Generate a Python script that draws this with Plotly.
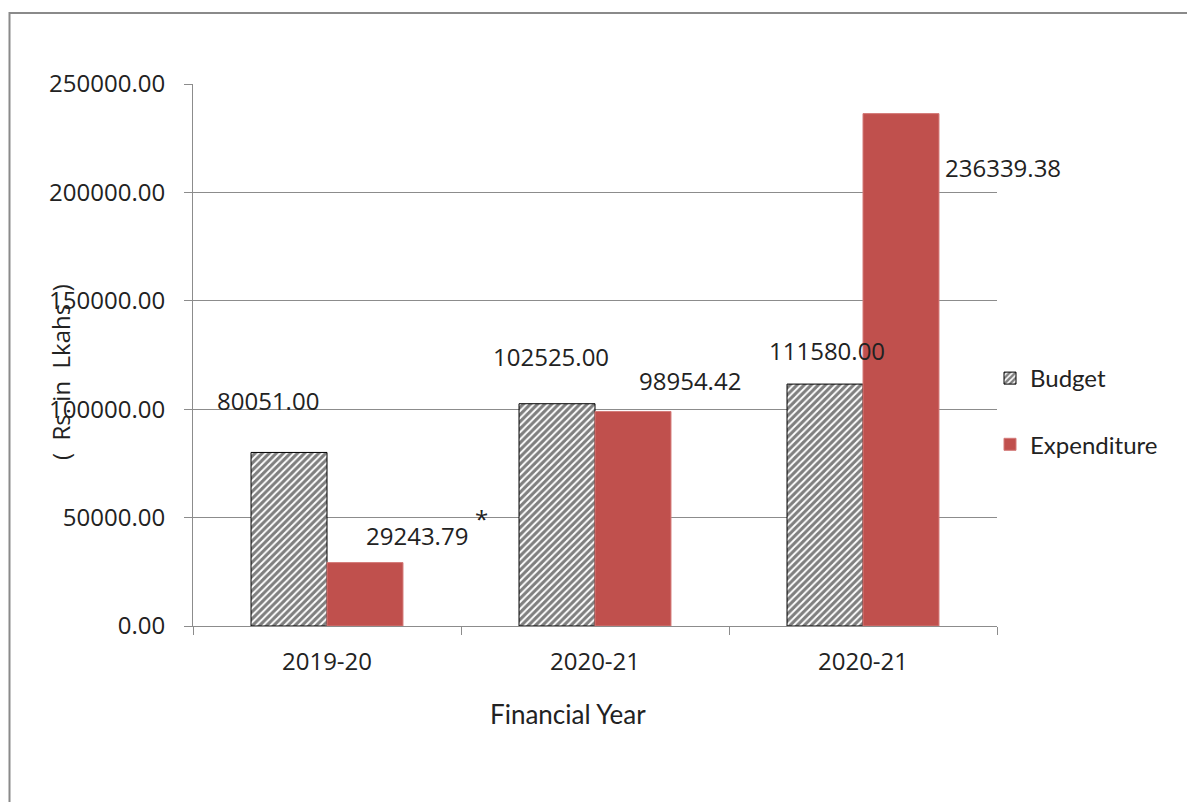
import plotly.graph_objects as go

# Financial-year categories (the last two share the same printed label)
years = ["2019-20", "2020-21", "2020-21"]
budget = [80051.00, 102525.00, 111580.00]
expenditure = [29243.79, 98954.42, 236339.38]

# Pixel offsets of each value label from (category centre, top of its bar)
budget_label_shift = [(-59, 52), (-44, 47), (-36, 34)]
exp_label_shift = [(90, 27), (95, 31), (140, -54)]

FONT = "Open Sans"
TEXT = "#222222"
GRID = "#8c8c8c"
RED = "#C0504D"

W, H = 1187, 802
L, R, T, B = 193, 190, 84, 176
PW, PH = W - L - R, H - T - B

def px_x(p):
    return (p - L) / PW

def px_y(p):
    return (H - B - p) / PH

xs = list(range(len(years)))

fig = go.Figure()

fig.add_trace(go.Bar(
    x=xs, y=budget, name="Budget",
    marker=dict(
        color="white",
        line=dict(color="black", width=1),
        pattern=dict(shape="/", fgcolor="black", bgcolor="white", size=5, solidity=0.62),
    ),
    legendgroup="b",
))
fig.add_trace(go.Bar(
    x=xs, y=expenditure, name="Expenditure",
    marker=dict(color=RED, line=dict(color="#d47a78", width=1)),
    legendgroup="e",
))

annotations = []
for values, shifts in ((budget, budget_label_shift), (expenditure, exp_label_shift)):
    for i, (v, (dx, dy)) in enumerate(zip(values, shifts)):
        annotations.append(dict(
            text=f"{v:.2f}", xref="x", yref="y", x=xs[i], y=v,
            xshift=dx, yshift=dy, showarrow=False,
            xanchor="center", yanchor="middle",
            font=dict(family=FONT, size=24, color=TEXT),
        ))

annotations += [
    dict(text="Financial Year", xref="paper", yref="paper",
         x=px_x(568), y=px_y(714), showarrow=False,
         xanchor="center", yanchor="middle",
         font=dict(family="Lato", size=26, color=TEXT)),
    dict(text="(  Rs. in  Lkahs  )", xref="paper", yref="paper",
         x=px_x(60), y=px_y(372), showarrow=False, textangle=-90,
         xanchor="center", yanchor="middle",
         font=dict(family=FONT, size=24, color=TEXT)),
    dict(text="*", xref="paper", yref="paper",
         x=px_x(481), y=px_y(518), showarrow=False,
         xanchor="center", yanchor="middle",
         font=dict(family=FONT, size=24, color=TEXT)),
]

xrange = [-0.5, len(years) - 0.5]

fig.update_layout(
    width=W, height=H,
    margin=dict(l=L, r=R, t=T, b=B, pad=0),
    paper_bgcolor="white", plot_bgcolor="white",
    barmode="group", bargap=0.433, bargroupgap=0,
    font=dict(family=FONT, size=24, color=TEXT),
    showlegend=True,
    legend=dict(
        x=px_x(990), y=px_y(356), xanchor="left", yanchor="top",
        font=dict(family="Lato", size=24, color=TEXT),
        tracegroupgap=32, traceorder="grouped",
        bgcolor="rgba(0,0,0,0)", borderwidth=0,
    ),
    xaxis=dict(
        range=xrange, tickmode="array", tickvals=xs, ticktext=years,
        ticks="", showgrid=False, zeroline=False,
        showline=True, linecolor=GRID, linewidth=1,
        tickfont=dict(family=FONT, size=24, color=TEXT),
        ticklabelstandoff=14,
        minor=dict(tickmode="linear", tick0=-0.5, dtick=1, ticks="outside",
                   ticklen=8, tickcolor=GRID, tickwidth=1, showgrid=False),
        fixedrange=True,
    ),
    yaxis=dict(
        range=[0, 250000], tickmode="linear", tick0=0, dtick=50000, tickformat=".2f",
        ticks="outside", ticklen=8, tickcolor=GRID, tickwidth=1,
        showgrid=True, gridcolor=GRID, gridwidth=1, zeroline=False,
        showline=True, linecolor=GRID, linewidth=1,
        tickfont=dict(family=FONT, size=24, color=TEXT),
        ticklabelstandoff=14,
        fixedrange=True,
    ),
    shapes=[
        # outer frame of the chart
        dict(type="rect", xref="paper", yref="paper",
             x0=px_x(9.5), x1=px_x(1200), y0=px_y(815), y1=px_y(13),
             line=dict(color="#8a8a8a", width=2), fillcolor="rgba(0,0,0,0)", layer="below"),
    ],
    annotations=annotations,
)

fig.write_html("out.html")
